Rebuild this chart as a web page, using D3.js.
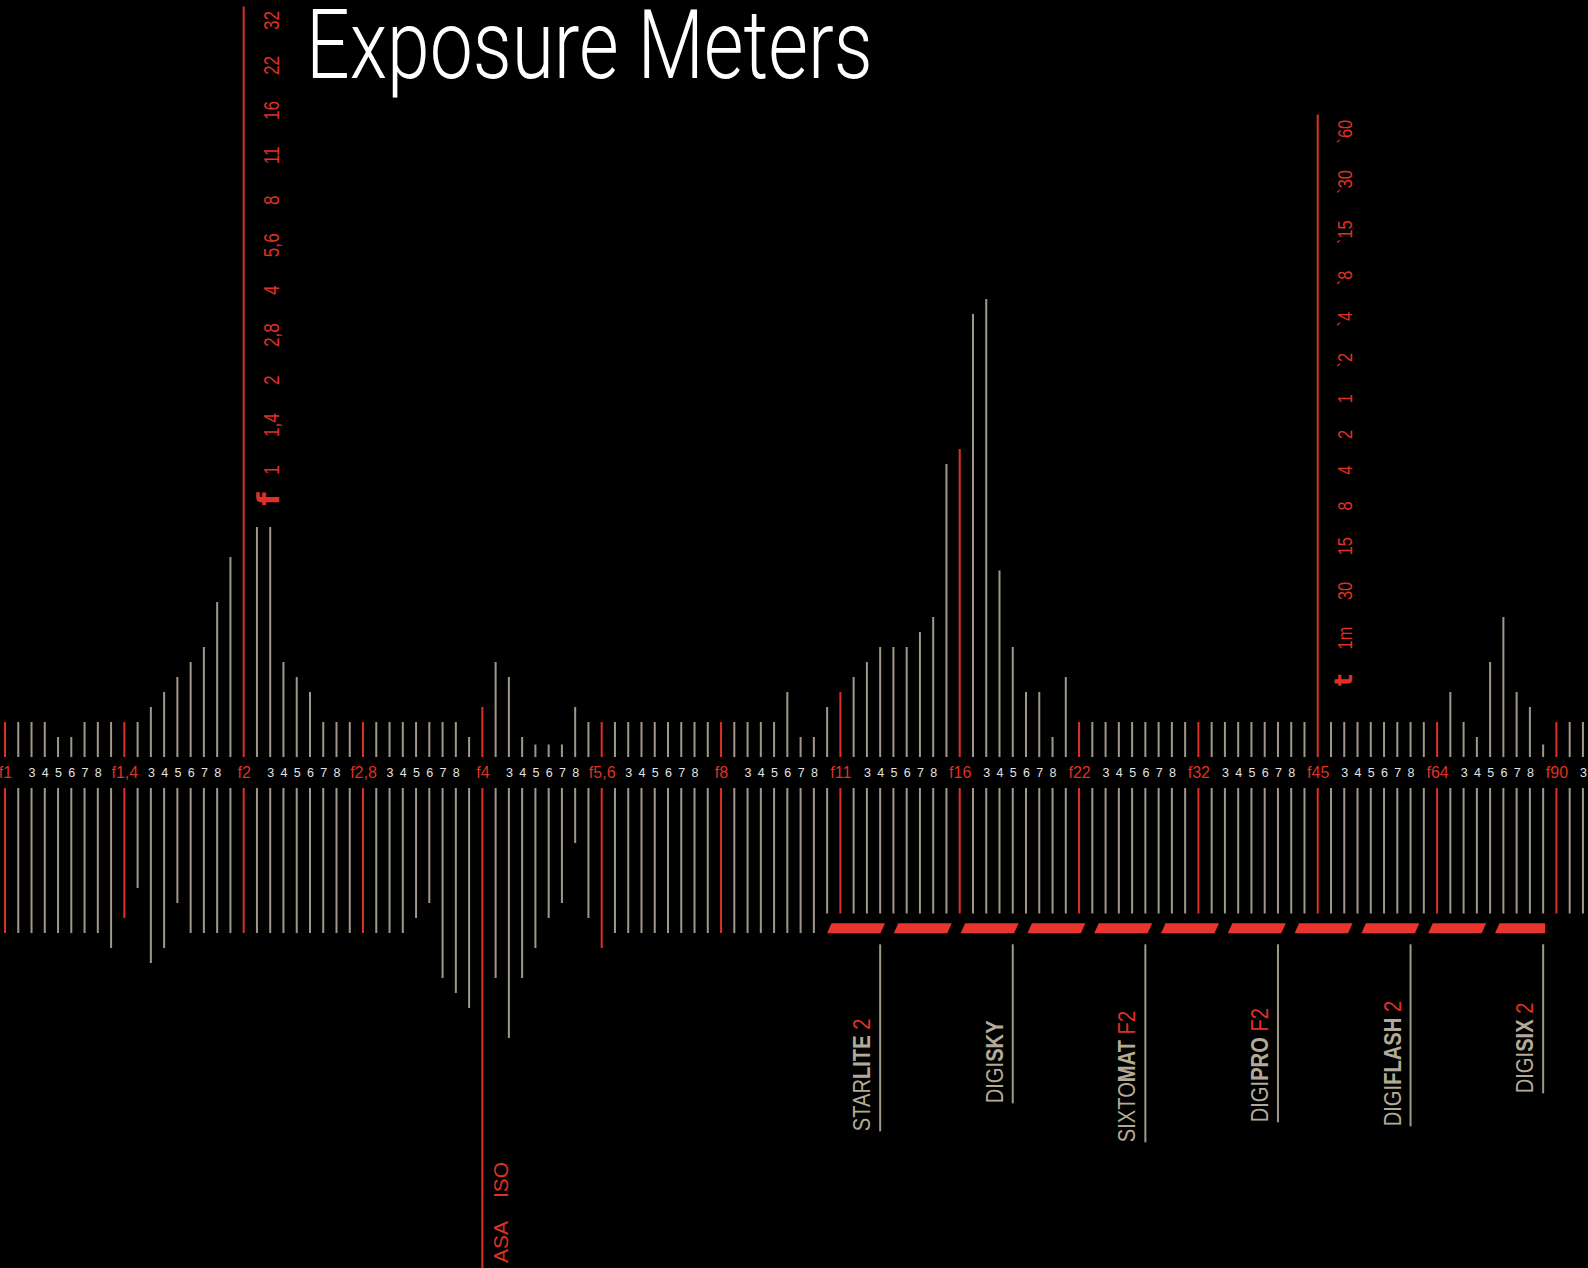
<!DOCTYPE html>
<html><head><meta charset="utf-8">
<script src="https://cdn.jsdelivr.net/npm/d3@7"></script>
<style>html,body{margin:0;padding:0;background:#000;} svg{display:block;}</style>
</head><body>
<svg id="chart" width="1588" height="1268"></svg>
<script>
// ---------------- DATA ----------------
const fStops = ["f1","f1,4","f2","f2,8","f4","f5,6","f8","f11","f16","f22","f32","f45","f64","f90"];
const minorLabels = ["","3","4","5","6","7","8",""];

// upper tick heights (levels), index 0..119
const upperValues = [
  2,2,2,2,1,1,2,2,2,2, 2,3,4,5,6,7,10,13,49.7,15,
  15,6,5,4,2,2,2,2,2,2, 2,2,2,2,2,1,3,6,5,1,
  0.5,0.5,0.5,3,2,2,2,2,2,2, 2,2,2,2,2,2,2,2,2,4,
  1,1,3,4,5,6,7,7,7,8, 9,19.2,20.2,29.2,30.2,12.1,7,4,4,1,
  5,2,2,2,2,2,2,2,2,2, 2,2,2,2,2,2,2,2,2,42.5,
  2,2,2,2,2,2,2,2,2,4, 2,1,6,9,4,3,0.5,2,2,2
];
// lower tick lengths (levels), index 0..119
const lowerValues = [
  10,10,10,10,10,10,10,10,11,9, 7,12,11,8,10,10,10,10,10,10,
  10,10,10,10,10,10,10,10,10,10, 10,9,8,13,14,15,32.4,13,17,13,
  11,9,8,4,9,11,10,10,10,10, 10,10,10,10,10,10,10,10,10,10,
  10,10,8.7,8.7,8.7,8.7,8.7,8.7,8.7,8.7, 8.7,8.7,8.7,8.7,8.7,8.7,8.7,8.7,8.7,8.7,
  8.7,8.7,8.7,8.7,8.7,8.7,8.7,8.7,8.7,8.7, 8.7,8.7,8.7,8.7,8.7,8.7,8.7,8.7,8.7,8.7,
  8.7,8.7,8.7,8.7,8.7,8.7,8.7,8.7,8.7,8.7, 8.7,8.7,8.7,8.7,8.7,8.7,8.7,8.7,8.7,8.7
];

const fAxisSymbol = "f";
const fAxisLabels = ["1","1,4","2","2,8","4","5,6","8","11","16","22","32"];
const tAxisSymbol = "t";
const tAxisLabels = ["1m","30","15","8","4","2","1","`2","`4","`8","`15","`30","`60"];
const isoAxisLabels = ["ASA","ISO"];

const modelTicks  = [66,76,86,96,106,116];
const modelPrefix = ["STAR","DIGI","SIXTO","DIGI","DIGI","DIGI"];
const modelBold   = ["LITE","SKY","MAT","PRO","FLASH","SIX"];
const modelSuffix = [" 2",""," F2"," F2"," 2"," 2"];
const modelValues = [187,159,198,178,182,149];

const fAxisIndex = 18, tAxisIndex = 99, isoAxisIndex = 36;
const meterBand = [62, 116.15];

// ---------------- STYLE ----------------
const RED = "#df3023", RED_BAR = "#e8352d", GRAY = "#9f9889", TEXT_GRAY = "#b3ab98";
const W = 1588, H = 1268;

const svg = d3.select("#chart");
svg.append("rect").attr("width", W).attr("height", H).attr("fill", "#000");

const N = upperValues.length;
const x = d3.scaleLinear().domain([0, N - 1]).range([5, 5 + (N - 1) * 13.26]);
const upBase = 757, downBase = 788;
const yUp = d3.scaleLinear().domain([0, 10]).range([752, 602]);
const yDown = d3.scaleLinear().domain([0, 10]).range([783, 933]);
const isStop = i => i % 9 === 0;

// tick labels
const tickLabels = [];
for (let i = 0; i < N; i++) {
  const s = Math.floor(i / 9), r = i % 9;
  tickLabels.push(r === 0 ? (fStops[s] || "") : minorLabels[r - 1]);
}

// upper ticks
svg.append("g").selectAll("line").data(upperValues).join("line")
  .attr("x1", (d, i) => x(i)).attr("x2", (d, i) => x(i))
  .attr("y1", upBase).attr("y2", d => yUp(d))
  .attr("stroke", (d, i) => isStop(i) ? RED : GRAY)
  .attr("stroke-width", 2);

// lower ticks
svg.append("g").selectAll("line").data(lowerValues).join("line")
  .attr("x1", (d, i) => x(i)).attr("x2", (d, i) => x(i))
  .attr("y1", downBase).attr("y2", d => yDown(d))
  .attr("stroke", (d, i) => isStop(i) ? RED : GRAY)
  .attr("stroke-width", 2);

// tick label row via axis
const axisG = svg.append("g").attr("transform", "translate(0,766)")
  .call(d3.axisBottom(x).tickValues(d3.range(N)).tickSize(0).tickPadding(0)
    .tickFormat(i => tickLabels[i]));
axisG.select(".domain").remove();
axisG.selectAll(".tick text")
  .attr("dy", "0.72em")
  .attr("font-family", "'Liberation Sans', Arial, sans-serif")
  .attr("font-size", i => isStop(i) ? 16 : 12.5)
  .attr("fill", i => isStop(i) ? RED : "#e2e2e2")
  .attr("y", i => isStop(i) ? 0 : 1.5);

// meter band (red dashed parallelograms)
const bx0 = x(meterBand[0]), bx1 = x(meterBand[1]);
const bandTop = 923.3, bandBot = 933.3;
svg.append("defs").append("clipPath").attr("id", "bandClip")
  .append("rect").attr("x", bx0).attr("y", bandTop - 1).attr("width", bx1 - bx0).attr("height", bandBot - bandTop + 2);
const gaps = [];
for (let c = 889.4 - 66.8; c < bx1 + 66.8; c += 66.8) gaps.push(c);
const segs = [];
for (let k = 0; k < gaps.length - 1; k++) segs.push([gaps[k] + 6.65, gaps[k + 1] - 6.65]);
svg.append("g").attr("clip-path", "url(#bandClip)").selectAll("path").data(segs).join("path")
  .attr("d", d => `M${d[0] + 2.25},${bandTop}L${d[1] + 2.25},${bandTop}L${d[1] - 2.25},${bandBot}L${d[0] - 2.25},${bandBot}Z`)
  .attr("fill", RED_BAR);

// model lines + labels
const modelY = d3.scaleLinear().domain([0, 100]).range([944.3, 1044.3]);
svg.append("g").selectAll("line").data(modelValues).join("line")
  .attr("x1", (d, i) => x(modelTicks[i])).attr("x2", (d, i) => x(modelTicks[i]))
  .attr("y1", modelY(0)).attr("y2", d => modelY(d))
  .attr("stroke", GRAY).attr("stroke-width", 2);
const mt = svg.append("g").selectAll("text").data(modelValues).join("text")
  .attr("transform", (d, i) => `translate(${x(modelTicks[i]) - 10},${modelY(d)}) rotate(-90) scale(0.84,1)`)
  .attr("font-family", "'Liberation Sans', Arial, sans-serif")
  .attr("font-size", 24).attr("fill", TEXT_GRAY);
mt.append("tspan").text((d, i) => modelPrefix[i]);
mt.append("tspan").attr("font-weight", "bold").text((d, i) => modelBold[i]);
mt.append("tspan").attr("fill", RED).text((d, i) => modelSuffix[i]);

// f axis labels (left vertical axis)
const fx = x(fAxisIndex) + 35;
const fPos = d3.scalePoint().domain(fAxisLabels).range([470, 20.5]);
svg.append("text")
  .attr("transform", `translate(${fx},499) rotate(-90)`)
  .attr("text-anchor", "middle")
  .attr("font-family", "'DejaVu Sans', sans-serif").attr("font-weight", "bold")
  .attr("font-size", 30).attr("fill", RED).text(fAxisSymbol);
svg.append("g").selectAll("text").data(fAxisLabels).join("text")
  .attr("transform", d => `translate(${fx},${fPos(d)}) rotate(-90) scale(0.8,1)`)
  .attr("text-anchor", "middle")
  .attr("font-family", "'Liberation Sans', Arial, sans-serif")
  .attr("font-size", 21.5).attr("fill", RED).text(d => d);

// t axis labels (right vertical axis) - flowing layout
const tx = x(tAxisIndex) + 34.5;
const tGap = 26.6;
let cursor = 686;
const tSym = svg.append("text")
  .attr("font-family", "'DejaVu Sans', sans-serif").attr("font-weight", "bold")
  .attr("font-size", 25).attr("fill", RED).text(tAxisSymbol);
let len = tSym.node().getComputedTextLength();
tSym.attr("transform", `translate(${tx},${cursor}) rotate(-90)`);
cursor -= len + tGap - 2;
tAxisLabels.forEach(lbl => {
  const t = svg.append("text")
    .attr("font-family", "'Liberation Sans', Arial, sans-serif")
    .attr("font-size", 21).attr("fill", RED).text(lbl);
  const l = t.node().getComputedTextLength() * 0.78;
  t.attr("transform", `translate(${tx},${cursor}) rotate(-90) scale(0.78,1)`);
  cursor -= l + tGap;
});

// ISO axis labels (bottom)
const ix = x(isoAxisIndex) + 26;
let icur = 1263;
isoAxisLabels.forEach(lbl => {
  const t = svg.append("text")
    .attr("font-family", "'Liberation Sans', Arial, sans-serif")
    .attr("font-size", 21).attr("fill", RED).text(lbl);
  const l = t.node().getComputedTextLength();
  t.attr("transform", `translate(${ix},${icur}) rotate(-90)`);
  icur -= l + 23;
});

// title
svg.append("text")
  .attr("transform", "translate(306,78) scale(0.8,1)")
  .attr("font-family", "Roboto, 'Liberation Sans', sans-serif")
  .attr("font-weight", 300).attr("font-size", 96).attr("fill", "#fff")
  .text("Exposure Meters");
</script>
</body></html>
